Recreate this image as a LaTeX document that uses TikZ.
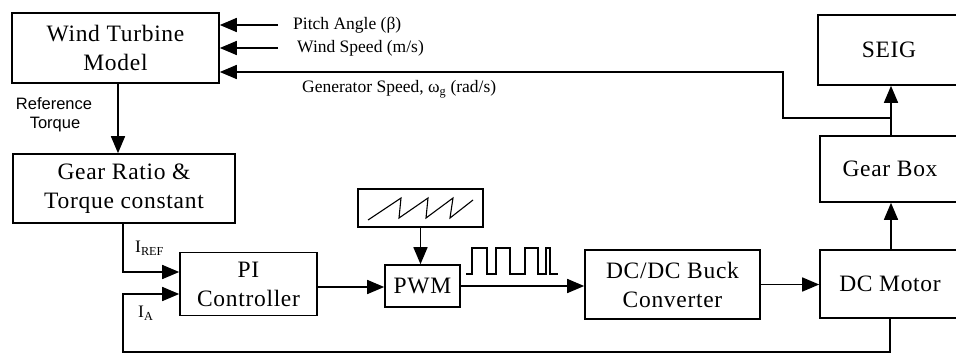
\documentclass[tikz,border=0pt]{standalone}
\usepackage{fontspec}
\setmainfont{Liberation Serif}
\newfontfamily\boxfont[LetterSpace=3]{Liberation Serif}
\newfontfamily\sansf{Liberation Sans}
\usetikzlibrary{arrows.meta}
\begin{document}
\begin{tikzpicture}[x=1pt,y=-1pt,
  blk/.style={draw, line width=1.6pt, inner sep=0pt, align=center,
    font=\boxfont\fontsize{23.5}{29}\selectfont},
  arr/.style={line width=1.5pt, -{Triangle[length=17pt,width=14pt]}},
  ln/.style={line width=1.5pt},
  wave/.style={line width=1.1pt},
  lbl/.style={font=\fontsize{17.5}{20}\selectfont, inner sep=0pt, anchor=west},
  slbl/.style={font=\sansf\fontsize{16.5}{19}\selectfont, inner sep=0pt}]
\useasboundingbox (0,0) rectangle (956,354);
% blocks
\node[blk, minimum width=207pt, minimum height=70pt] (wtm) at (115.5,48) {Wind Turbine\\Model};
\node[blk, minimum width=222pt, minimum height=69pt] (gr) at (124,188.5) {Gear Ratio \&\\Torque constant};
\node[blk, minimum width=137pt, minimum height=63pt] (pi) at (248.5,284) {PI\\Controller};
\node[blk, minimum width=75pt, minimum height=42pt] (pwm) at (422.5,286) {PWM};
\node[draw, line width=1.6pt, minimum width=125pt, minimum height=38pt, inner sep=0pt] (saw) at (420.5,208) {};
\node[blk, minimum width=175pt, minimum height=69pt] (dcdc) at (672.5,284.5) {DC/DC Buck\\Converter};
\node[blk, minimum width=140pt, minimum height=68pt] (dcm) at (890,284) {DC Motor};
\node[blk, minimum width=140pt, minimum height=66pt] (gb) at (890,169) {Gear Box};
\node[blk, minimum width=142pt, minimum height=70pt] (seig) at (889,50) {SEIG};
% sawtooth
\draw[wave] (368,220) -- (401,198) -- (399,218) -- (428,198) -- (426,218) -- (453,198) -- (450,218) -- (473,200);
% square wave
\draw[wave] (466,274) -- (472,274) -- (472,248) -- (487,248) -- (487,274) -- (496,274) -- (496,248) -- (510,248) -- (510,274) -- (525,274) -- (525,248) -- (538,248) -- (538,274) -- (546,274) -- (546,248) -- (550,248) -- (550,274) -- (558,274);
% inputs to wind turbine
\coordinate (pa) at (278,25);
\coordinate (ws) at (278,48);
\draw[arr] (pa) -- (wtm.east |- pa);
\draw[arr] (ws) -- (wtm.east |- ws);
\node[lbl] (pal) at (293,25) {Pitch Angle (β)};
\node[lbl] (wsl) at (297,48) {Wind Speed (m/s)};
% generator speed feedback
\coordinate (gj) at (891,118);
\coordinate (gc) at (783,72);
\draw[arr] (gj) -| (gc) -- (wtm.east |- gc);
\node[lbl] (gsl) at (302,89) {Generator Speed, ω\textsubscript{g} (rad/s)};
% reference torque
\draw[arr] ([xshift=2.5pt]wtm.south) -- ([xshift=2.5pt]wtm.south |- gr.north);
\node[slbl] (rt1) at (54,104) {Reference};
\node[slbl] (rt2) at (55,125) {Torque};
% IREF
\coordinate (ir) at (123,223);
\draw[arr] (ir) |- (pi.west |- 0,272);
\node[lbl] (irl) at (135,248) {I\textsubscript{REF}};
% IA feedback
\coordinate (fb) at (123,352);
\draw[arr] (dcm.south) |- (fb) |- (pi.west |- 0,294);
\node[lbl] (ial) at (138,313) {I\textsubscript{A}};
% forward chain
\draw[arr] (pi.east |- 0,287) -- (pwm.west |- 0,287);
\draw[arr] (saw.south) -- (saw.south |- pwm.north);
\draw[arr] (pwm.east) -- (dcdc.west |- pwm.east);
\draw[arr] (dcdc.east) -- (dcm.west |- dcdc.east);
\draw[arr] ([xshift=1pt]dcm.north) -- ([xshift=1pt]gb.south);
\draw[arr] ([xshift=1pt]gb.north) -- ([xshift=1pt]gb.north |- seig.south);
\end{tikzpicture}
\end{document}
